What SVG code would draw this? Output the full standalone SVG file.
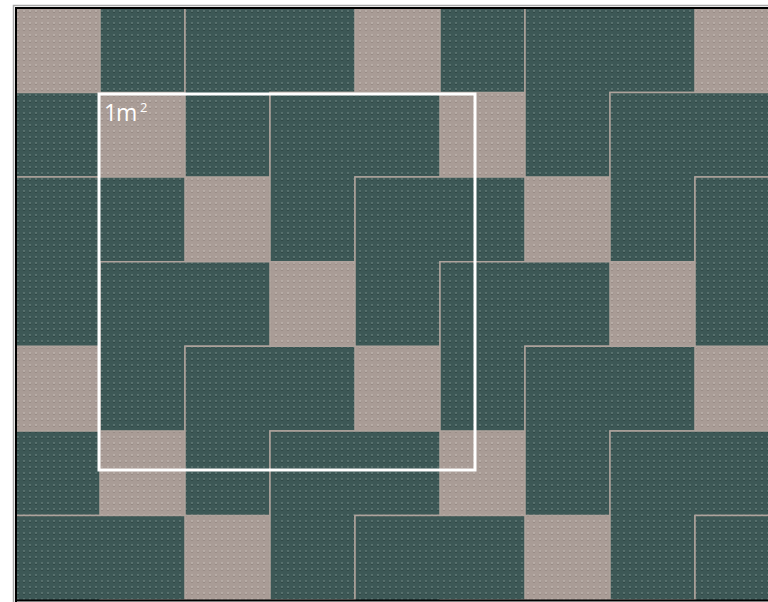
<svg xmlns="http://www.w3.org/2000/svg" width="768" height="602" viewBox="0 0 768 602">
  <defs>
    <pattern id="dotsDark" x="15" y="8" width="6" height="6" patternUnits="userSpaceOnUse">
      <rect width="6" height="6" fill="#3d5856"/>
      <circle cx="3" cy="3.7" r="1.3" fill="#2e4644"/>
      <circle cx="3" cy="3" r="1.1" fill="#5f7976"/>
    </pattern>
    <pattern id="dotsLight" x="15" y="8" width="6" height="6" patternUnits="userSpaceOnUse">
      <rect width="6" height="6" fill="#a99c96"/>
      <circle cx="3" cy="3.7" r="1.3" fill="#978a84"/>
      <circle cx="3" cy="3" r="1.1" fill="#beb3ad"/>
    </pattern>
    <clipPath id="frame">
      <rect x="16" y="8" width="752" height="592"/>
    </clipPath>
    <style>
      .piece { fill: url(#dotsDark); stroke: #aea29c; stroke-width: 1.5; stroke-linejoin: miter; }
      .label { font-family: "Open Sans", Lato, "Liberation Sans", sans-serif; fill: #ffffff; }
    </style>
  </defs>
  <rect width="768" height="602" fill="#ffffff"/>
  <g clip-path="url(#frame)">
    <rect id="background" x="0" y="0" width="800" height="620" fill="url(#dotsLight)"/>
    <g id="tiles">
      <polygon class="piece" points="100,-77 270,-77 270,8 185,8 185,92.6 100,92.6"/>
      <polygon class="piece" points="440,-77 610,-77 610,8 525,8 525,92.6 440,92.6"/>
      <polygon class="piece" points="185,8 355,8 355,92.6 270,92.6 270,177.1 185,177.1"/>
      <polygon class="piece" points="525,8 695,8 695,92.6 610,92.6 610,177.1 525,177.1"/>
      <polygon class="piece" points="-70,92.6 100,92.6 100,177.1 15,177.1 15,261.7 -70,261.7"/>
      <polygon class="piece" points="270,92.6 440,92.6 440,177.1 355,177.1 355,261.7 270,261.7"/>
      <polygon class="piece" points="610,92.6 780,92.6 780,177.1 695,177.1 695,261.7 610,261.7"/>
      <polygon class="piece" points="15,177.1 185,177.1 185,261.7 100,261.7 100,346.3 15,346.3"/>
      <polygon class="piece" points="355,177.1 525,177.1 525,261.7 440,261.7 440,346.3 355,346.3"/>
      <polygon class="piece" points="695,177.1 865,177.1 865,261.7 780,261.7 780,346.3 695,346.3"/>
      <polygon class="piece" points="100,261.7 270,261.7 270,346.3 185,346.3 185,430.9 100,430.9"/>
      <polygon class="piece" points="440,261.7 610,261.7 610,346.3 525,346.3 525,430.9 440,430.9"/>
      <polygon class="piece" points="185,346.3 355,346.3 355,430.9 270,430.9 270,515.4 185,515.4"/>
      <polygon class="piece" points="525,346.3 695,346.3 695,430.9 610,430.9 610,515.4 525,515.4"/>
      <polygon class="piece" points="-70,430.9 100,430.9 100,515.4 15,515.4 15,600 -70,600"/>
      <polygon class="piece" points="270,430.9 440,430.9 440,515.4 355,515.4 355,600 270,600"/>
      <polygon class="piece" points="610,430.9 780,430.9 780,515.4 695,515.4 695,600 610,600"/>
      <polygon class="piece" points="15,515.4 185,515.4 185,600 100,600 100,684.6 15,684.6"/>
      <polygon class="piece" points="355,515.4 525,515.4 525,600 440,600 440,684.6 355,684.6"/>
      <polygon class="piece" points="695,515.4 865,515.4 865,600 780,600 780,684.6 695,684.6"/>
    </g>
  </g>
  <g id="frameBorder">
    <polyline points="13.5,602 13.5,5.5 768,5.5" fill="none" stroke="#a8a8a8" stroke-width="1.5"/>
    <polyline points="16,602 16,8 768,8" fill="none" stroke="#000000" stroke-width="2"/>
    <line x1="15" y1="600.5" x2="768" y2="600.5" stroke="#000000" stroke-width="2"/>
  </g>
  <g id="squareMetre">
    <rect x="99" y="94" width="376" height="376" fill="none" stroke="#ffffff" stroke-width="3"/>
    <text class="label" y="121" font-size="23"><tspan x="104">1</tspan><tspan x="116">m</tspan><tspan x="140" y="112" font-size="13">2</tspan></text>
  </g>
</svg>
